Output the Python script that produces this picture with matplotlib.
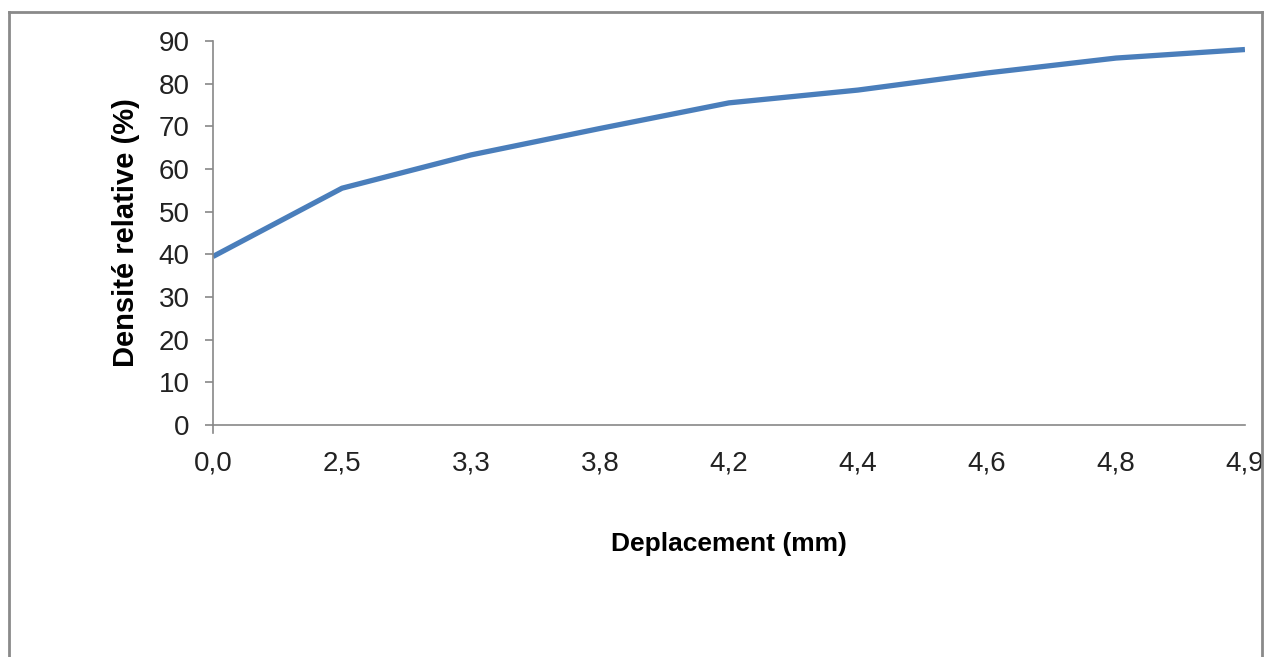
import matplotlib.pyplot as plt
import numpy as np
from matplotlib.lines import Line2D

# data
deplacement = ['0,0', '2,5', '3,3', '3,8', '4,2', '4,4', '4,6', '4,8', '4,9']
densite = [39.5, 55.5, 63.3, 69.5, 75.5, 78.5, 82.5, 86.0, 88.0]
y_ticks = [0, 10, 20, 30, 40, 50, 60, 70, 80, 90]

plt.rcParams['font.family'] = ['Liberation Sans', 'DejaVu Sans']

fig = plt.figure(figsize=(12.71, 6.57), dpi=100)
ax = fig.add_axes([0.1676, 0.3531, 0.8119, 0.5845])

x = np.arange(len(deplacement))
ax.plot(x, densite, color='#4A7EBB', lw=3.8, solid_capstyle='butt')

ax.set_xlim(0, len(deplacement) - 1)
ax.set_ylim(0, 90)
ax.set_yticks(y_ticks)
ax.set_xticks(x)
ax.set_xticklabels(deplacement)

for s in ['top', 'right']:
    ax.spines[s].set_visible(False)
for s in ['left', 'bottom']:
    ax.spines[s].set_color('#888888')
    ax.spines[s].set_linewidth(1.2)

ax.tick_params(axis='y', direction='out', length=6, width=1.2, color='#888888',
               labelsize=20, pad=11, labelcolor='#222222')
ax.tick_params(axis='x', direction='out', length=0, labelsize=20, pad=18,
               labelcolor='#222222')
# only the first category carries a tick mark
ax.plot([0, 0], [0, -0.02], transform=ax.get_xaxis_transform(),
        color='#888888', lw=1.2, clip_on=False)

ax.set_ylabel('Densité relative (%)', fontsize=21, fontweight='bold', labelpad=13)
ax.set_xlabel('Deplacement (mm)', fontsize=19, fontweight='bold', labelpad=40)

# outer frame (left, top, right edges)
fc = '#8a8a8a'
fig.add_artist(Line2D([0.0071, 0.0071], [0.0, 0.982], transform=fig.transFigure, color=fc, lw=2))
fig.add_artist(Line2D([0.0071, 0.993], [0.982, 0.982], transform=fig.transFigure, color=fc, lw=2))
fig.add_artist(Line2D([0.993, 0.993], [0.0, 0.982], transform=fig.transFigure, color=fc, lw=2))

fig.savefig('out.png', dpi=100)
